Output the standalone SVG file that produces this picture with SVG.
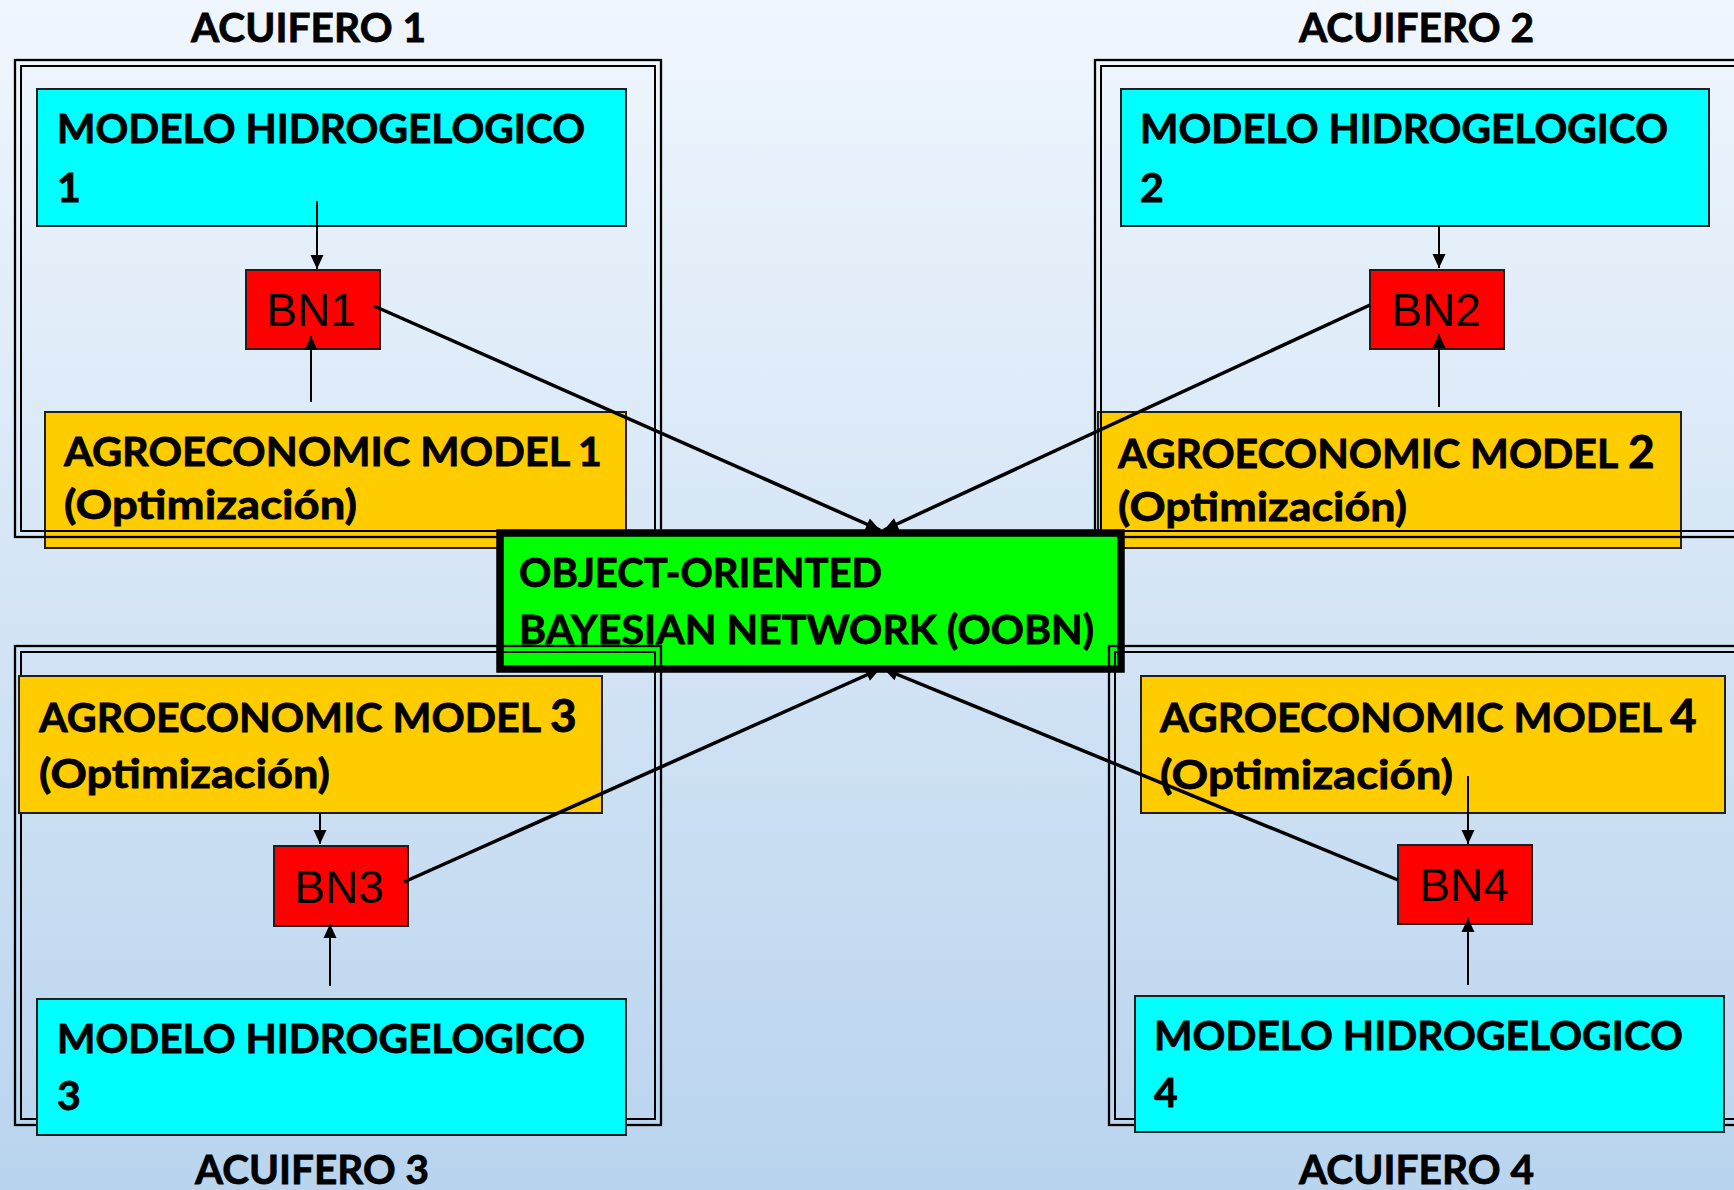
<svg xmlns="http://www.w3.org/2000/svg" width="1734" height="1190" viewBox="0 0 1734 1190">
<defs>
<linearGradient id="bg" x1="0" y1="0" x2="0" y2="1">
<stop offset="0" stop-color="#f0f6fd"/>
<stop offset="1" stop-color="#b9d4ee"/>
</linearGradient>
<marker id="ah" markerUnits="userSpaceOnUse" markerWidth="16" markerHeight="16" viewBox="0 0 16 16" refX="15" refY="8" orient="auto">
<path d="M1,1.5 L15,8 L1,14.5 z" fill="#000"/>
</marker>
</defs>
<style>
.t{font-family:Lato,"Open Sans","Liberation Sans",sans-serif;font-weight:700;font-size:41px;fill:#000;stroke:#000;stroke-width:0.8}
.big{font-size:46px}
.bn{font-family:"Liberation Sans",Arial,sans-serif;font-size:46px;fill:#000;text-anchor:middle}
.mh{fill:#00ffff;stroke:#1f1f1f;stroke-width:2}
.ae{fill:#ffcc00;stroke:#1f1f1f;stroke-width:2}
.bnr{fill:#ff0000;stroke:#1f1f1f;stroke-width:2}
.oo{fill:#00ff00;stroke:#000;stroke-width:7.5}
.fo{fill:none;stroke:#000;stroke-width:2.3}
.fi{fill:none;stroke:#000;stroke-width:2}
.ar{stroke:#000;stroke-width:2;fill:none;marker-end:url(#ah)}
.cn{stroke:#000;stroke-width:3.5;fill:none;marker-end:url(#ah)}
</style>
<rect x="0" y="0" width="1734" height="1190" fill="url(#bg)"/>

<g id="ae1"><rect class="ae" x="45" y="412" width="581" height="136"/>
<text class="t" y="466"><tspan x="64" textLength="505" lengthAdjust="spacingAndGlyphs">AGROECONOMIC MODEL</tspan> <tspan x="578">1</tspan></text>
<text class="t" x="64" y="519" textLength="293" lengthAdjust="spacingAndGlyphs">(Optimización)</text></g>
<g id="ae2"><rect class="ae" x="1098" y="412" width="583" height="136"/>
<text class="t" y="468"><tspan x="1118" textLength="499" lengthAdjust="spacingAndGlyphs">AGROECONOMIC MODEL</tspan> <tspan class="big" x="1628">2</tspan></text>
<text class="t" x="1118" y="521" textLength="289" lengthAdjust="spacingAndGlyphs">(Optimización)</text></g>
<g id="mh1"><rect class="mh" x="37" y="89" width="589" height="137"/>
<text class="t" x="57" y="143" textLength="528" lengthAdjust="spacingAndGlyphs">MODELO HIDROGELOGICO</text>
<text class="t" x="57" y="202">1</text></g>
<g id="mh2"><rect class="mh" x="1121" y="89" width="588" height="137"/>
<text class="t" x="1140" y="143" textLength="528" lengthAdjust="spacingAndGlyphs">MODELO HIDROGELOGICO</text>
<text class="t" x="1140" y="202">2</text></g>
<g id="bn1"><rect class="bnr" x="246" y="270" width="134" height="79"/><text class="bn" x="311" y="326">BN1</text></g>
<g id="bn2"><rect class="bnr" x="1370" y="270" width="134" height="79"/><text class="bn" x="1436" y="326">BN2</text></g>

<g id="acuifero1"><rect class="fo" x="15" y="60" width="646" height="477"/><rect class="fi" x="21" y="66" width="634" height="465"/>
<text class="t" x="191" y="42" textLength="235" lengthAdjust="spacingAndGlyphs">ACUIFERO 1</text></g>
<g id="acuifero2"><rect class="fo" x="1095" y="60" width="700" height="477"/><rect class="fi" x="1101" y="66" width="700" height="465"/>
<text class="t" x="1299" y="42" textLength="235" lengthAdjust="spacingAndGlyphs">ACUIFERO 2</text></g>

<g id="oobn"><rect class="oo" x="500" y="533" width="621" height="136"/>
<text class="t" x="519" y="587" textLength="363" lengthAdjust="spacingAndGlyphs">OBJECT-ORIENTED</text>
<text class="t" x="519" y="644" textLength="575" lengthAdjust="spacingAndGlyphs">BAYESIAN NETWORK (OOBN)</text></g>

<g id="acuifero3"><rect class="fo" x="15" y="646" width="646" height="479"/><rect class="fi" x="21" y="652" width="634" height="467"/>
<text class="t" x="195" y="1184" textLength="234" lengthAdjust="spacingAndGlyphs">ACUIFERO 3</text></g>
<g id="acuifero4"><rect class="fo" x="1109" y="646" width="700" height="479"/><rect class="fi" x="1115" y="652" width="700" height="467"/>
<text class="t" x="1299" y="1184" textLength="235" lengthAdjust="spacingAndGlyphs">ACUIFERO 4</text></g>

<g id="ae3"><rect class="ae" x="19" y="676" width="583" height="137"/>
<text class="t" y="732"><tspan x="39" textLength="501" lengthAdjust="spacingAndGlyphs">AGROECONOMIC MODEL</tspan> <tspan class="big" x="550">3</tspan></text>
<text class="t" x="39" y="788" textLength="291" lengthAdjust="spacingAndGlyphs">(Optimización)</text></g>
<g id="mh3"><rect class="mh" x="37" y="999" width="589" height="136"/>
<text class="t" x="57" y="1053" textLength="528" lengthAdjust="spacingAndGlyphs">MODELO HIDROGELOGICO</text>
<text class="t" x="57" y="1110">3</text></g>
<g id="bn3"><rect class="bnr" x="274" y="846" width="134" height="80"/><text class="bn" x="339" y="903">BN3</text></g>
<g id="ae4"><rect class="ae" x="1141" y="676" width="584" height="137"/>
<text class="t" y="732"><tspan x="1160" textLength="501" lengthAdjust="spacingAndGlyphs">AGROECONOMIC MODEL</tspan> <tspan class="big" x="1670">4</tspan></text>
<text class="t" x="1160" y="789" textLength="293" lengthAdjust="spacingAndGlyphs">(Optimización)</text></g>
<g id="mh4"><rect class="mh" x="1135" y="996" width="589" height="136"/>
<text class="t" x="1154" y="1050" textLength="529" lengthAdjust="spacingAndGlyphs">MODELO HIDROGELOGICO</text>
<text class="t" x="1154" y="1107">4</text></g>
<g id="bn4"><rect class="bnr" x="1398" y="845" width="134" height="79"/><text class="bn" x="1464" y="901">BN4</text></g>

<g id="connectors">
<line class="ar" x1="317" y1="201" x2="317" y2="269"/>
<line class="ar" x1="311" y1="402" x2="311" y2="336"/>
<line class="ar" x1="1439" y1="226" x2="1439" y2="268"/>
<line class="ar" x1="1439" y1="407" x2="1439" y2="334"/>
<line class="ar" x1="320" y1="813" x2="320" y2="844"/>
<line class="ar" x1="330" y1="986" x2="330" y2="924"/>
<line class="ar" x1="1468" y1="776" x2="1468" y2="844"/>
<line class="ar" x1="1468" y1="985" x2="1468" y2="918"/>
<line class="cn" x1="374" y1="306" x2="880" y2="530"/>
<line class="cn" x1="1370" y1="305" x2="884" y2="530"/>
<line class="cn" x1="404" y1="882" x2="880" y2="669"/>
<line class="cn" x1="1398" y1="880" x2="884" y2="669"/>
</g>
</svg>
